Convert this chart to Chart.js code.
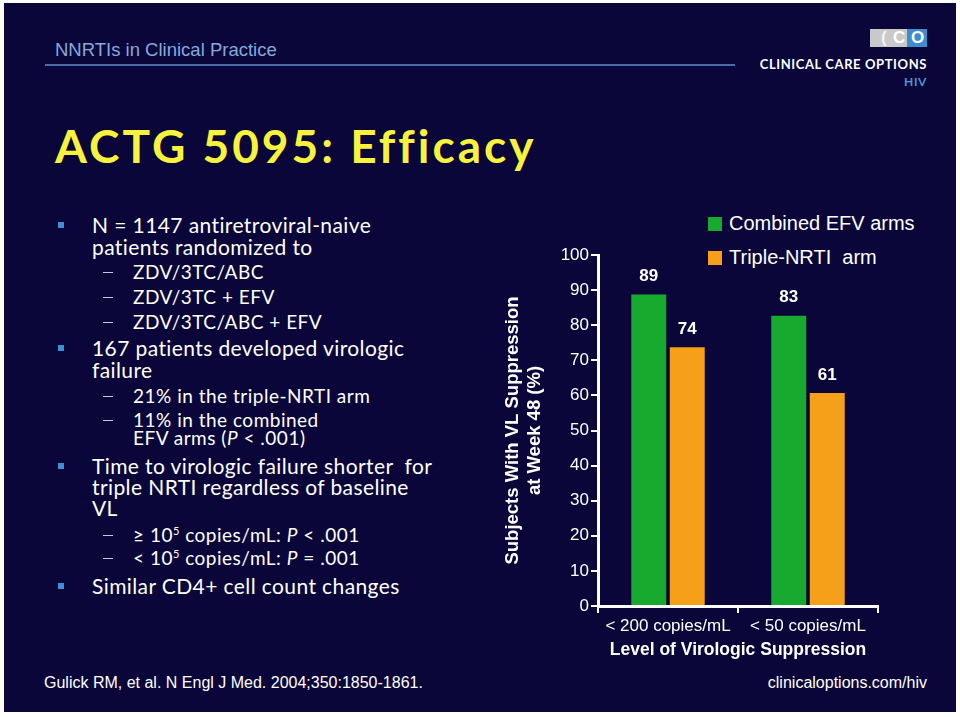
<!DOCTYPE html>
<html><head><meta charset="utf-8">
<script src="https://cdn.jsdelivr.net/npm/chart.js@4.4.1/dist/chart.umd.min.js"></script>
<style>
html,body{margin:0;padding:0;background:#ffffff;width:960px;height:717px;overflow:hidden;}
#slide{position:absolute;left:4px;top:3px;width:952px;height:709px;background:#0a063a;}
.t{position:absolute;white-space:nowrap;}
#hdr{left:55px;top:39px;line-height:22px;font:18.5px "Liberation Sans",Arial,sans-serif;color:#86a9dc;}
#hline{position:absolute;left:45px;top:64px;width:690px;height:2px;background:#4a6cad;}
#title{left:55px;top:118px;line-height:54px;font:bold 46px Lato,sans-serif;color:#f7f23c;letter-spacing:3px;}
.m{font:21px Lato,sans-serif;color:#ffffff;left:92px;line-height:24px;letter-spacing:0.4px;}
.s{font:19px Lato,sans-serif;color:#ffffff;left:133px;line-height:22px;letter-spacing:0.5px;}
.sq{position:absolute;left:58px;width:6px;height:6px;background:#3d8fd6;}
.dash{position:absolute;left:103px;width:10px;height:1px;background:#c8c8d8;}
sup{font-size:11px;vertical-align:7px;line-height:0;}
.foot{font:16px "Liberation Sans",Arial,sans-serif;color:#ffffff;top:673px;line-height:20px;}
#logo1{position:absolute;left:870px;top:29px;width:37px;height:18px;background:#c9c9c9;}
#logo2{position:absolute;left:907px;top:29px;width:20px;height:18px;background:#3b8dd0;}
.lg{position:absolute;font:bold 17px "Liberation Sans",Arial,sans-serif;line-height:18px;top:29px;}
#cco{right:33px;top:56px;line-height:16px;font:bold 13px Lato,sans-serif;color:#ffffff;letter-spacing:0.6px;}
#hiv{right:33px;top:74px;line-height:16px;font:bold 12px Lato,sans-serif;color:#4d95d6;letter-spacing:0.6px;}
.leg{position:absolute;left:708px;font:20px "Liberation Sans",Arial,sans-serif;color:#ffffff;white-space:pre;}
.leg span{position:absolute;left:0;width:14px;height:14px;}
.leg b{position:absolute;left:21px;font-weight:normal;line-height:24px;}
#c{position:absolute;left:0;top:0;}
</style></head>
<body>
<div id="slide"></div>
<div class="t" id="hdr">NNRTIs in Clinical Practice</div>
<div id="hline"></div>
<div id="logo1"></div><div id="logo2"></div>
<div class="lg" style="left:881px;color:#f4f4f4;">(</div>
<div class="lg" style="left:893px;color:#ffffff;">C</div>
<div class="lg" style="left:911px;color:#ffffff;">O</div>
<div class="t" id="cco">CLINICAL CARE OPTIONS</div>
<div class="t" id="hiv">HIV</div>
<div class="t" id="title">ACTG 5095: Efficacy</div>

<div class="sq" style="top:222px"></div>
<div class="t m" style="top:213px">N = 1147 antiretroviral-naive</div>
<div class="t m" style="top:235px">patients randomized to</div>
<div class="dash" style="top:272px"></div>
<div class="t s" style="top:261px">ZDV/3TC/ABC</div>
<div class="dash" style="top:297px"></div>
<div class="t s" style="top:286px">ZDV/3TC + EFV</div>
<div class="dash" style="top:322px"></div>
<div class="t s" style="top:311px">ZDV/3TC/ABC + EFV</div>
<div class="sq" style="top:345px"></div>
<div class="t m" style="top:336px">167 patients developed virologic</div>
<div class="t m" style="top:358px">failure</div>
<div class="dash" style="top:396px"></div>
<div class="t s" style="top:385px">21% in the triple-NRTI arm</div>
<div class="dash" style="top:420px"></div>
<div class="t s" style="top:409px">11% in the combined</div>
<div class="t s" style="top:427px">EFV arms (<i>P</i> &lt; .001)</div>
<div class="sq" style="top:463px"></div>
<div class="t m" style="top:454px">Time to virologic failure shorter&nbsp; for</div>
<div class="t m" style="top:475px">triple NRTI regardless of baseline</div>
<div class="t m" style="top:496px">VL</div>
<div class="dash" style="top:535px"></div>
<div class="t s" style="top:524px">&ge; 10<sup>5</sup> copies/mL: <i>P</i> &lt; .001</div>
<div class="dash" style="top:558px"></div>
<div class="t s" style="top:547px">&lt; 10<sup>5</sup> copies/mL: <i>P</i> = .001</div>
<div class="sq" style="top:583px"></div>
<div class="t m" style="top:574px">Similar CD4+ cell count changes</div>

<div class="t foot" style="left:44px;">Gulick RM, et al. N Engl J Med. 2004;350:1850-1861.</div>
<div class="t foot" style="right:33px;">clinicaloptions.com/hiv</div>

<div id="legend"></div>
<canvas id="c" width="960" height="717"></canvas>
<script>
const categories = ['< 200 copies/mL', '< 50 copies/mL'];
const combinedEFV = [89, 83];
const tripleNRTI = [74, 61];
const seriesLabels = ['Combined EFV arms', 'Triple-NRTI  arm'];
const yTicks = [0, 10, 20, 30, 40, 50, 60, 70, 80, 90, 100];
const xTitle = 'Level of Virologic Suppression';
const yTitle = ['Subjects With VL Suppression', 'at Week 48 (%)'];

const GREEN = '#18a92f';
const ORANGE = '#f6a01a';
const NAVY = '#0a063a';

const datasets = [
  {label: seriesLabels[0], data: combinedEFV, backgroundColor: GREEN},
  {label: seriesLabels[1], data: tripleNRTI, backgroundColor: ORANGE}
].map(d => Object.assign(d, {borderColor: NAVY, borderWidth: 1, categoryPercentage: 0.55, barPercentage: 0.96}));

// HTML legend from dataset info
const legTops = [216, 250];
const legend = document.getElementById('legend');
datasets.forEach((d, i) => {
  const el = document.createElement('div');
  el.className = 'leg';
  el.style.top = legTops[i] + 'px';
  el.innerHTML = '<span style="top:1px;background:' + d.backgroundColor + '"></span><b style="top:-5px">' + d.label + '</b>';
  legend.appendChild(el);
});

const valueLabels = {
  id: 'valueLabels',
  afterDatasetsDraw(chart) {
    const c = chart.ctx;
    c.save();
    c.font = 'bold 17px "Liberation Sans", Arial, sans-serif';
    c.fillStyle = '#ffffff';
    c.textAlign = 'center';
    c.textBaseline = 'middle';
    chart.data.datasets.forEach((ds, i) => {
      chart.getDatasetMeta(i).data.forEach((bar, j) => {
        c.fillText(String(ds.data[j]), bar.x, bar.y - 17);
      });
    });
    c.restore();
  }
};

const tickFont = {family: '"Liberation Sans", Arial, sans-serif', size: 17};
new Chart(document.getElementById('c'), {
  type: 'bar',
  data: {labels: categories, datasets: datasets},
  options: {
    responsive: false,
    animation: false,
    devicePixelRatio: 1,
    layout: {padding: {left: 490, right: 82, top: 255, bottom: 56}},
    plugins: {legend: {display: false}, tooltip: {enabled: false}},
    scales: {
      x: {
        grid: {display: true, offset: true, drawOnChartArea: false, drawTicks: true, tickLength: 7, color: '#ffffff', lineWidth: 2},
        border: {display: true, color: '#ffffff', width: 3},
        ticks: {color: '#ffffff', font: tickFont, padding: 3, maxRotation: 0, autoSkip: false},
        title: {display: true, text: xTitle, color: '#ffffff', font: {family: '"Liberation Sans", Arial, sans-serif', size: 17.5, weight: 'bold'}, padding: {top: 0, bottom: 0}},
        afterFit(s) { s.height = 55; }
      },
      y: {
        min: 0, max: 100,
        afterBuildTicks(s) { s.ticks = yTicks.map(v => ({value: v})); },
        ticks: {color: '#ffffff', font: tickFont, padding: 2},
        grid: {drawOnChartArea: false, drawTicks: true, tickLength: 7, color: '#ffffff', lineWidth: 2},
        border: {display: true, color: '#ffffff', width: 3},
        title: {display: true, text: yTitle, color: '#ffffff', font: {family: '"Liberation Sans", Arial, sans-serif', size: 18.5, weight: 'bold', lineHeight: 1.2}, padding: {top: 12, bottom: 0}},
        afterFit(s) { s.width = 108; }
      }
    }
  },
  plugins: [valueLabels]
});
</script>
</body></html>
